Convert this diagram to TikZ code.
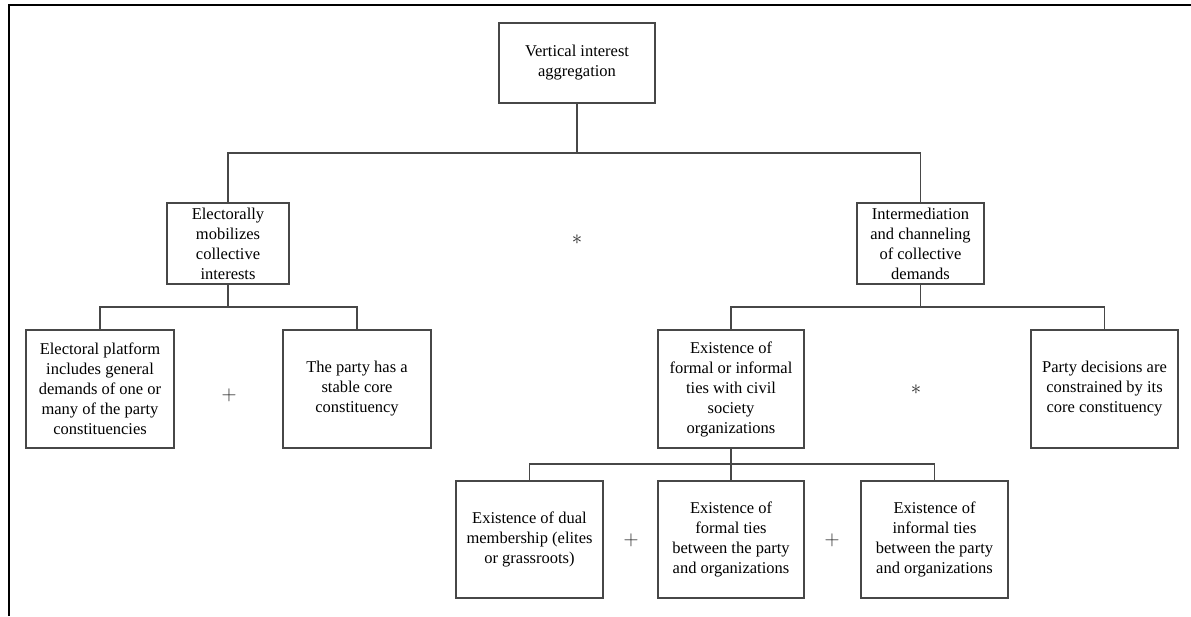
\documentclass[tikz,border=0pt]{standalone}
\usepackage{fontspec}
\setmainfont{Liberation Serif}
\begin{document}
\begin{tikzpicture}[x=1pt,y=-1pt,
  box/.style={draw=black!72, line width=1.1pt, inner sep=0pt, align=center,
    text=black, font=\fontsize{16.5}{20}\selectfont},
  conn/.style={draw=black!72, line width=1.1pt},
  sym/.style={inner sep=0pt, text=black!85, font=\fontsize{21}{21}\selectfont}]
\useasboundingbox (0,0) rectangle (1191,616);
\draw[line width=2.6pt, black] (9,616) -- (9,5) -- (1191,5);

\node[box, minimum width=156pt, minimum height=80pt] (top) at (577,63) {Vertical interest\\aggregation};
\node[box, minimum width=122pt, minimum height=81pt] (l) at (228,243.5) {Electorally\\mobilizes\\collective\\interests};
\node[box, minimum width=127pt, minimum height=81pt] (r) at (920.5,243.5) {Intermediation\\and channeling\\of collective\\demands};
\node[box, minimum width=148pt, minimum height=118pt] (ll1) at (100,389) {Electoral platform\\includes general\\demands of one or\\many of the party\\constituencies};
\node[box, minimum width=148pt, minimum height=118pt] (ll2) at (357,389) {The party has a\\stable core\\constituency};
\node[box, minimum width=146pt, minimum height=118pt] (rl1) at (731,389) {Existence of\\formal or informal\\ties with civil\\society\\organizations};
\node[box, minimum width=147pt, minimum height=118pt] (rl2) at (1104.5,389) {Party decisions are\\constrained by its\\core constituency};
\node[box, minimum width=147pt, minimum height=117pt] (b1) at (529.5,539.5) {Existence of dual\\membership (elites\\or grassroots)};
\node[box, minimum width=146pt, minimum height=117pt] (b2) at (731,539.5) {Existence of\\formal ties\\between the party\\and organizations};
\node[box, minimum width=147pt, minimum height=117pt] (b3) at (934.5,539.5) {Existence of\\informal ties\\between the party\\and organizations};

\coordinate (bus1) at (577,153);
\coordinate (bus2) at (228,307);
\coordinate (bus3) at (920.5,307);
\coordinate (bus4) at (731,464);

\draw[conn] (top.south) -- (bus1);
\draw[conn] (l.north) |- (bus1) -| (r.north);
\draw[conn] (l.south) -- (bus2);
\draw[conn] (ll1.north) |- (bus2) -| (ll2.north);
\draw[conn] (r.south) -- (bus3);
\draw[conn] (rl1.north) |- (bus3) -| (rl2.north);
\draw[conn] (rl1.south) -- (b2.north);
\draw[conn] (b1.north) |- (bus4) -| (b3.north);

\node[sym] (s1) at (577,240) {$\ast$};
\node[sym] (s2) at (916,390) {$\ast$};
\node[sym] (p1) at (229,395) {$+$};
\node[sym] (p2) at (631,540) {$+$};
\node[sym] (p3) at (832,540) {$+$};
\end{tikzpicture}
\end{document}
